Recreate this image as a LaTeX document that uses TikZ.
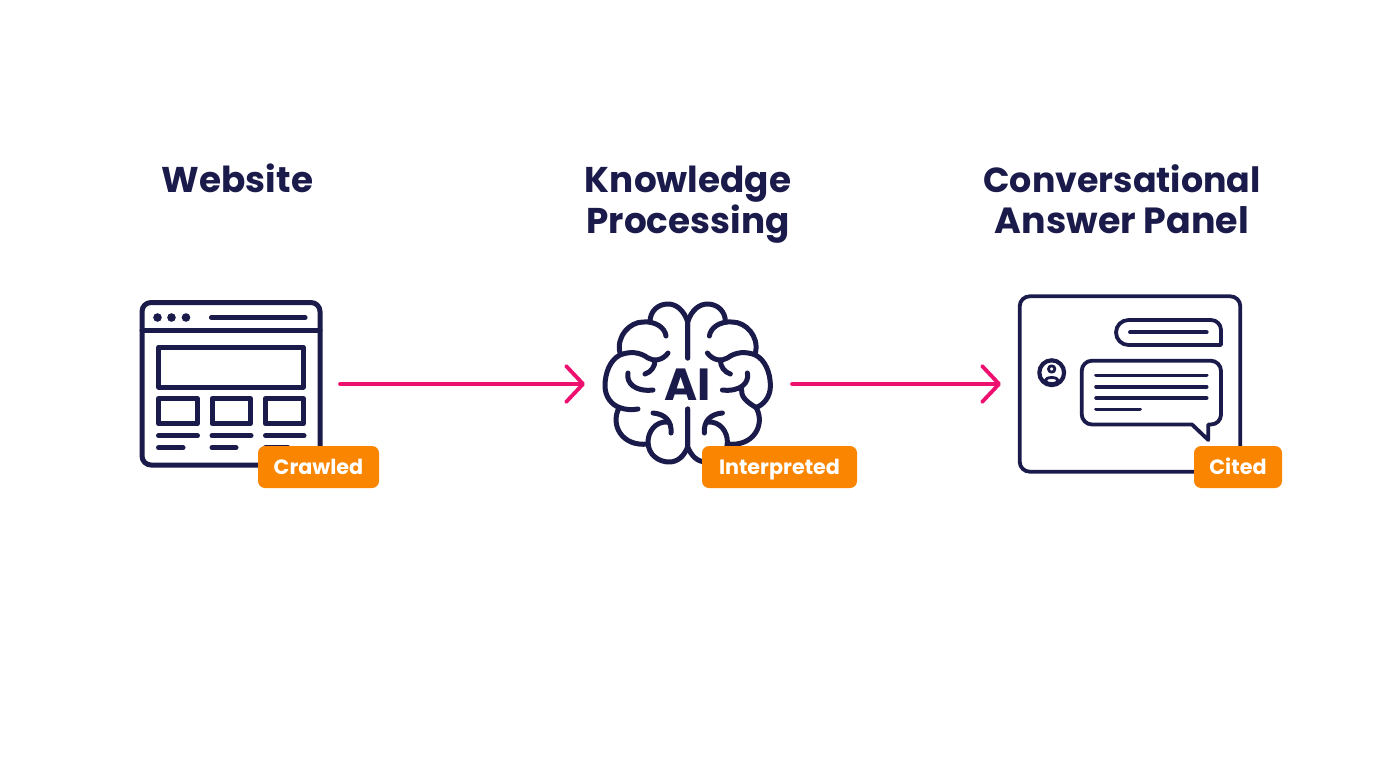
\documentclass[tikz,border=0pt]{standalone}
\usepackage{fontspec}
\setmainfont{Poppins}
\usetikzlibrary{arrows.meta}
\definecolor{navy}{HTML}{1A1A4B}
\definecolor{hotpink}{HTML}{EE0F6E}
\definecolor{badgeor}{HTML}{F98500}
\tikzset{
  title/.style={text=navy,font=\fontsize{35.8}{41}\selectfont\bfseries,align=center,inner sep=0pt},
  badge/.style={fill=badgeor,rounded corners=7pt,text=white,font=\fontsize{20.7}{24}\selectfont\bfseries,minimum height=42pt,inner sep=0pt,text height=15pt,text depth=0pt},
  icon/.style={draw=none,inner sep=0pt,outer sep=0pt},
  ink/.style={draw=navy,line width=#1,line cap=round,line join=round},
  ink/.default=5pt,
  flow/.style={draw=hotpink,line width=3.8pt,line cap=round,-{Straight Barb[length=17pt,width=36pt,line width=3.8pt,round]}}
}
\newcommand{\brainhalf}{
  \draw[ink] (687.7,358) -- (687.7,322) .. controls (684,310) and (676,304) .. (668,304) .. controls (658,304) and (650,311) .. (650,322);
  \draw[ink] (620,353) .. controls (616,336) and (630,322) .. (643,322) .. controls (656,321) and (665,328) .. (666,336);
  \draw[ink] (668,353) .. controls (663,360) and (654,362) .. (648,358) .. controls (640,352) and (630,351) .. (620,355) .. controls (610,360) and (605,373) .. (605,386) .. controls (605,397) and (612,405) .. (619.4,407.5);
  \draw[ink] (655,360) .. controls (655,367) and (651,372) .. (645,374);
  \draw[ink] (628,373) .. controls (626,383) and (635,392) .. (653,390);
  \draw[ink] (619,408) .. controls (610,425) and (622,447) .. (648,444);
  \draw[ink] (668,422) .. controls (655,421) and (648,432) .. (648,442) .. controls (648,455) and (659,462) .. (669,462) .. controls (678,462) and (684,456) .. (687.7,447) -- (687.7,409);
  \draw[ink] (653,413) .. controls (665,414) and (672,421) .. (671,433);
}
\begin{document}
\begin{tikzpicture}[x=1pt,y=-1pt]
\useasboundingbox (0,0) rectangle (1376,768);
\fill[white] (0,0) rectangle (1376,768);

% titles
\node[title] (t1) at (237.5,184.5) {Website\strut};
\node[title] (t2) at (688,205) {Knowledge\strut\\Processing\strut};
\node[title,font=\fontsize{34.8}{41}\selectfont\bfseries] (t3) at (1122,205) {Conversational\strut\\{\fontsize{36.4}{41}\selectfont Answer Panel}\strut};

% layout nodes of the icons
\node[icon,minimum width=200pt,minimum height=170pt] (web) at (240,384) {};
\node[icon,minimum width=207pt,minimum height=170pt] (brain) at (688.5,384) {};
\node[icon,minimum width=240pt,minimum height=170pt] (panel) at (1121,384) {};

% website icon
\draw[ink] (142,302.5) [rounded corners=9pt] -- (320,302.5) -- (320,465) -- (142,465) -- cycle;
\draw[ink] (142,330.5) -- (320,330.5);
\foreach \x in {157.5,171.5,186} \fill[navy] (\x,317.5) circle (4.3pt);
\draw[ink=5.2pt] (211.5,317.5) -- (305,317.5);
\draw[ink] (158.7,347.3) rectangle (303.3,387);
\draw[ink] (158.7,398.7) rectangle (197.3,423.7);
\draw[ink] (212,398.7) rectangle (250.3,423.7);
\draw[ink] (265.3,398.7) rectangle (303.3,423.7);
\foreach \a/\b in {158.5/197.5,212/251,265.5/304} \draw[ink] (\a,435.7) -- (\b,435.7);
\foreach \a/\b in {158.5/183,212/236,265.5/288} \draw[ink] (\a,447.7) -- (\b,447.7);

% brain icon
\brainhalf
\draw[ink] (619.4,407.5) .. controls (626,410) and (632,410) .. (638,409);
\begin{scope}[shift={(1375.4,0)},x=-1pt]
  \brainhalf
\end{scope}
\draw[ink] (756,407.5) .. controls (745,401) and (741,396) .. (741.5,389);
\node[text=navy,font=\fontsize{45}{45}\selectfont\bfseries,inner sep=0pt] (ai) at (687.5,391) {AI\strut};

% panel icon
\draw[ink=3.8pt,rounded corners=10pt] (1019.7,296.3) rectangle (1240.3,471.7);
\draw[ink=3.8pt] (1221,345) -- (1128.5,345) arc[start angle=270,end angle=90,radius=12.5pt] -- (1211,320) arc[start angle=90,end angle=0,radius=10pt] -- cycle;
\draw[ink=3.8pt] (1130,332.3) -- (1206.7,332.3);
\draw[ink=3.8pt] (1192,424.5) -- (1092,424.5) arc[start angle=270,end angle=180,radius=10.3pt] -- (1081.7,371) arc[start angle=180,end angle=90,radius=10.3pt] -- (1210.7,360.7) arc[start angle=90,end angle=0,radius=10.3pt] -- (1221,414.5) arc[start angle=0,end angle=-90,radius=10pt] -- (1208.3,424.5) -- (1208.3,440) -- cycle;
\foreach \y in {375.3,386.7,398} \draw[ink=3.6pt] (1096,\y) -- (1206.7,\y);
\draw[ink=3.6pt] (1096,409.3) -- (1140,409.3);
\draw[ink=4.2pt] (1051.7,372.7) circle (12.4pt);
\draw[ink=2.8pt] (1051.7,369) circle (3.2pt);
\draw[ink=2.8pt] (1051.7,380.5) ellipse (6.5pt and 3pt);

% connectors
\draw[flow] (web.east) -- (brain.west);
\draw[flow] (brain.east) -- (panel.west);

% badges
\node[badge,minimum width=121pt] (b1) at (318.5,467) {Crawled};
\node[badge,minimum width=155pt] (b2) at (779.5,467) {Interpreted};
\node[badge,minimum width=88pt] (b3) at (1238,467) {Cited};
\end{tikzpicture}
\end{document}
